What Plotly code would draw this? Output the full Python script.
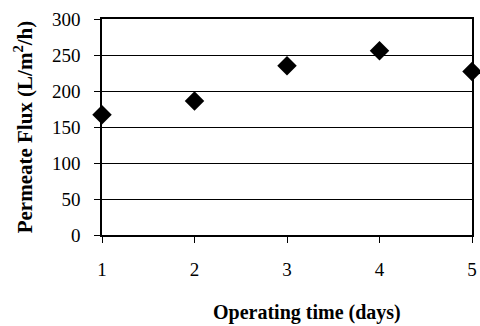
import plotly.graph_objects as go

days = [1, 2, 3, 4, 5]
flux = [167, 186, 235, 256, 227]
y_ticks = [0, 50, 100, 150, 200, 250, 300]

fig = go.Figure()
fig.add_trace(go.Scatter(
    x=days, y=flux, mode="markers",
    marker=dict(symbol="diamond", size=15, color="black"),
    cliponaxis=False, showlegend=False,
))

axis_font = dict(family="Liberation Serif", size=19, color="black")
fig.update_layout(
    width=480, height=326,
    margin=dict(l=102, r=8, t=19, b=91, autoexpand=False),
    paper_bgcolor="white", plot_bgcolor="white",
    font=axis_font,
    xaxis=dict(
        range=[1, 5], tickvals=days, ticks="outside", ticklen=6, tickcolor="black",
        showline=True, linecolor="black", linewidth=1.5, mirror=True,
        showgrid=False, zeroline=False, tickfont=axis_font,
        ticklabelstandoff=10, automargin=False,
    ),
    yaxis=dict(
        range=[0, 300], tickvals=y_ticks, ticks="outside", ticklen=6, tickcolor="black",
        showline=True, linecolor="black", linewidth=1.5, mirror=True,
        showgrid=True, gridcolor="black", gridwidth=1, zeroline=False,
        tickfont=axis_font, ticklabelstandoff=10, automargin=False,
        title=dict(text="<b>Permeate Flux (L/m<sup>2</sup>/h)</b>",
                   font=dict(family="Liberation Serif", size=21, color="black"),
                   standoff=14),
    ),
    annotations=[dict(
        text="<b>Operating time (days)</b>", showarrow=False,
        xref="paper", yref="paper", x=0.554, y=-0.361,
        xanchor="center", yanchor="middle",
        font=dict(family="Liberation Serif", size=20, color="black"),
    )],
)

fig.write_html("out.html", config={"displayModeBar": False},
               post_script="document.body.style.margin='0px';")
